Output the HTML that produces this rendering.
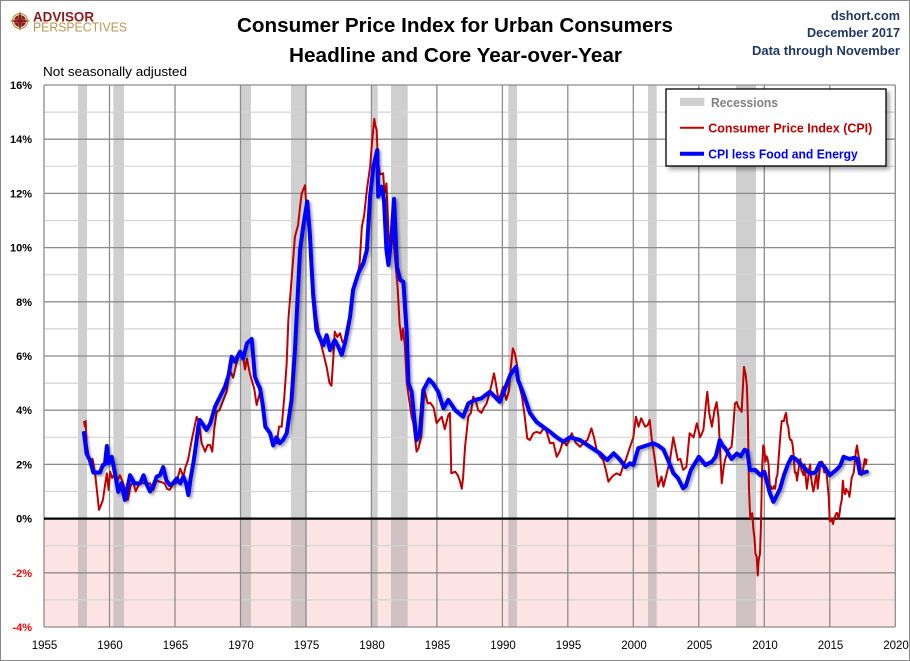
<!DOCTYPE html>
<html><head><meta charset="utf-8"><style>
html,body{margin:0;padding:0;background:#fff;}
svg{display:block;font-family:"Liberation Sans",Arial,sans-serif;}
</style></head><body>
<svg width="910" height="661" viewBox="0 0 910 661" xmlns="http://www.w3.org/2000/svg">
<defs>
<filter id="sh" x="-5%" y="-5%" width="110%" height="110%">
<feDropShadow dx="2" dy="2" stdDeviation="1.3" flood-color="#000" flood-opacity="0.35"/>
</filter>
<filter id="lsh" x="-10%" y="-10%" width="120%" height="130%">
<feDropShadow dx="3" dy="3" stdDeviation="2" flood-color="#000" flood-opacity="0.35"/>
</filter>
</defs>
<rect x="0.5" y="0.5" width="909" height="660" fill="#fff" stroke="#8a8a8a" stroke-width="1"/>

<!-- plot background -->
<rect x="44" y="85" width="851.3" height="542" fill="#fff"/>
<rect x="44" y="518.6" width="851.3" height="108.4" fill="#fde4e4"/>

<!-- recession bars -->
<g fill="#a0a0a0" fill-opacity="0.5">
<rect x="78" y="85" width="9" height="542"/>
<rect x="113.3" y="85" width="10.7" height="542"/>
<rect x="240.7" y="85" width="10.3" height="542"/>
<rect x="291" y="85" width="15" height="542"/>
<rect x="371.7" y="85" width="6" height="542"/>
<rect x="391" y="85" width="16.7" height="542"/>
<rect x="508.3" y="85" width="8.7" height="542"/>
<rect x="648" y="85" width="8.7" height="542"/>
<rect x="736" y="85" width="20" height="542"/>
</g>

<!-- minor gridlines -->
<g stroke="#d4d4d4" stroke-width="1.2">
<line x1="44" x2="895.3" y1="112.1" y2="112.1"/>
<line x1="44" x2="895.3" y1="166.3" y2="166.3"/>
<line x1="44" x2="895.3" y1="220.5" y2="220.5"/>
<line x1="44" x2="895.3" y1="274.7" y2="274.7"/>
<line x1="44" x2="895.3" y1="328.9" y2="328.9"/>
<line x1="44" x2="895.3" y1="383.1" y2="383.1"/>
<line x1="44" x2="895.3" y1="437.3" y2="437.3"/>
<line x1="44" x2="895.3" y1="491.5" y2="491.5"/>
<line x1="44" x2="895.3" y1="545.7" y2="545.7"/>
<line x1="44" x2="895.3" y1="599.9" y2="599.9"/>
</g>
<!-- major gridlines -->
<g stroke="#8c8c8c" stroke-width="1.3">
<line x1="44" x2="895.3" y1="85" y2="85"/>
<line x1="44" x2="895.3" y1="139.2" y2="139.2"/>
<line x1="44" x2="895.3" y1="193.4" y2="193.4"/>
<line x1="44" x2="895.3" y1="247.6" y2="247.6"/>
<line x1="44" x2="895.3" y1="301.8" y2="301.8"/>
<line x1="44" x2="895.3" y1="356" y2="356"/>
<line x1="44" x2="895.3" y1="410.2" y2="410.2"/>
<line x1="44" x2="895.3" y1="464.4" y2="464.4"/>
<line x1="44" x2="895.3" y1="572.8" y2="572.8"/>
<line x1="44" x2="895.3" y1="627" y2="627"/>
<line x1="44" x2="44" y1="85" y2="627"/>
<line x1="109.5" x2="109.5" y1="85" y2="627"/>
<line x1="175" x2="175" y1="85" y2="627"/>
<line x1="240.5" x2="240.5" y1="85" y2="627"/>
<line x1="306" x2="306" y1="85" y2="627"/>
<line x1="371.4" x2="371.4" y1="85" y2="627"/>
<line x1="436.9" x2="436.9" y1="85" y2="627"/>
<line x1="502.4" x2="502.4" y1="85" y2="627"/>
<line x1="567.8" x2="567.8" y1="85" y2="627"/>
<line x1="633.3" x2="633.3" y1="85" y2="627"/>
<line x1="698.8" x2="698.8" y1="85" y2="627"/>
<line x1="764.3" x2="764.3" y1="85" y2="627"/>
<line x1="829.8" x2="829.8" y1="85" y2="627"/>
<line x1="895.3" x2="895.3" y1="85" y2="627"/>
</g>
<line x1="44" x2="895.3" y1="518.6" y2="518.6" stroke="#000" stroke-width="2.2"/>

<!-- CPI series (red) -->
<g transform="translate(44,518.6) scale(13.096,-27.1) translate(-1955,0)">
<polyline fill="none" stroke="#c00000" stroke-width="2" vector-effect="non-scaling-stroke" stroke-linejoin="round" points="1958.05,3.6 1958.12,3.4 1958.18,3.6 1958.25,2.78 1958.5,2.04 1958.7,2.2 1958.9,1.67 1959.05,1.0 1959.2,0.32 1959.35,0.5 1959.5,0.69 1959.65,1.2 1959.8,1.67 1959.93,1.06 1960.05,1.73 1960.2,1.5 1960.42,1.67 1960.6,1.4 1960.8,1.6 1961.05,1.3 1961.2,1.0 1961.4,0.69 1961.6,1.2 1961.8,1.36 1962.0,1.0 1962.33,1.36 1962.6,1.3 1962.84,1.3 1963.1,1.3 1963.35,1.06 1963.6,1.4 1963.86,1.36 1964.2,1.3 1964.4,1.1 1964.6,1.06 1964.9,1.3 1965.1,1.3 1965.4,1.85 1965.64,1.55 1965.8,1.9 1966.0,2.16 1966.28,2.9 1966.5,3.4 1966.66,3.76 1966.85,3.5 1967.04,2.78 1967.3,2.47 1967.5,2.72 1967.67,2.72 1967.85,2.47 1968.0,3.3 1968.18,3.94 1968.4,4.0 1968.7,4.38 1968.95,4.7 1969.2,5.48 1969.45,5.2 1969.7,5.73 1969.95,6.1 1970.2,5.97 1970.35,5.5 1970.5,5.9 1970.7,5.4 1970.86,5.11 1971.05,4.8 1971.24,4.19 1971.5,4.68 1971.7,4.0 1971.9,3.45 1972.1,3.3 1972.26,3.15 1972.5,2.9 1972.77,2.78 1972.95,3.4 1973.15,3.39 1973.35,4.5 1973.53,5.73 1973.66,7.33 1973.9,8.8 1974.16,10.4 1974.4,10.83 1974.55,11.5 1974.68,12.0 1974.93,12.3 1975.05,11.39 1975.3,10.28 1975.56,8.56 1975.8,7.45 1976.07,6.59 1976.33,6.1 1976.58,5.6 1976.8,5.0 1976.95,4.9 1977.1,6.0 1977.2,6.9 1977.4,6.7 1977.6,6.84 1977.8,6.5 1977.98,6.6 1978.2,6.8 1978.37,7.33 1978.6,8.3 1978.9,8.9 1979.1,9.4 1979.27,10.76 1979.45,11.2 1979.65,12.12 1979.9,12.98 1980.05,13.9 1980.22,14.75 1980.3,14.5 1980.4,14.35 1980.5,13.2 1980.65,12.7 1980.9,12.74 1981.0,12.0 1981.15,12.37 1981.3,10.5 1981.4,9.9 1981.55,10.7 1981.66,10.5 1981.8,9.6 1982.0,8.55 1982.15,7.2 1982.3,6.59 1982.4,7.02 1982.55,6.4 1982.7,5.0 1982.85,4.5 1983.07,3.76 1983.2,3.52 1983.45,2.47 1983.6,2.6 1983.8,3.02 1984.05,4.74 1984.3,4.25 1984.5,4.27 1984.75,4.1 1984.98,3.52 1985.2,3.66 1985.37,3.76 1985.6,3.3 1985.87,3.82 1986.0,3.9 1986.1,1.67 1986.4,1.73 1986.6,1.6 1986.75,1.4 1986.9,1.1 1987.0,1.5 1987.15,2.65 1987.4,3.76 1987.6,3.9 1987.77,4.5 1987.95,4.4 1988.15,4.0 1988.4,3.9 1988.6,4.1 1988.8,4.25 1989.0,4.6 1989.2,5.0 1989.36,5.36 1989.5,5.0 1989.7,4.38 1989.9,4.6 1990.05,4.87 1990.3,4.38 1990.5,4.7 1990.65,5.6 1990.8,6.28 1990.95,6.1 1991.1,5.73 1991.3,4.9 1991.5,4.5 1991.7,3.8 1991.9,2.96 1992.1,2.9 1992.37,3.15 1992.6,3.2 1992.9,3.15 1993.1,3.3 1993.3,3.33 1993.64,2.78 1993.9,2.8 1994.15,2.28 1994.4,2.5 1994.65,2.9 1994.9,2.7 1995.1,2.9 1995.3,3.15 1995.6,2.8 1995.93,2.65 1996.2,2.8 1996.5,2.9 1996.8,3.33 1997.0,3.0 1997.2,2.53 1997.45,2.3 1997.7,2.16 1997.9,1.8 1998.1,1.36 1998.3,1.5 1998.5,1.6 1998.73,1.67 1999.0,1.6 1999.2,1.9 1999.45,2.2 1999.75,2.65 2000.0,3.0 2000.2,3.76 2000.4,3.39 2000.6,3.7 2000.9,3.39 2001.1,3.45 2001.25,3.64 2001.4,2.96 2001.65,2.16 2001.9,1.18 2002.15,1.55 2002.3,1.18 2002.55,1.67 2002.8,2.16 2003.05,3.0 2003.2,2.65 2003.4,2.16 2003.6,2.2 2003.8,1.8 2004.05,1.9 2004.3,3.15 2004.6,3.0 2004.85,3.52 2005.1,3.0 2005.35,3.27 2005.55,4.25 2005.65,4.68 2005.8,3.88 2006.0,3.39 2006.2,4.0 2006.36,4.3 2006.5,3.76 2006.6,2.78 2006.75,1.3 2006.9,1.9 2007.0,2.16 2007.25,2.53 2007.5,2.65 2007.6,3.15 2007.76,4.25 2007.9,4.3 2008.0,4.13 2008.27,3.94 2008.45,5.6 2008.58,5.3 2008.67,4.9 2008.75,3.7 2008.83,1.1 2008.92,0.1 2009.0,0.0 2009.08,0.2 2009.17,-0.4 2009.25,-0.7 2009.33,-1.3 2009.42,-1.4 2009.5,-2.1 2009.58,-1.5 2009.67,-1.3 2009.75,-0.2 2009.83,1.8 2009.92,2.7 2010.0,2.6 2010.08,2.1 2010.17,2.3 2010.25,2.2 2010.33,2.0 2010.42,1.1 2010.5,1.2 2010.58,1.1 2010.67,1.1 2010.75,1.2 2010.83,1.1 2010.92,1.5 2011.0,1.6 2011.08,2.1 2011.17,2.7 2011.25,3.2 2011.33,3.6 2011.42,3.6 2011.5,3.6 2011.58,3.8 2011.67,3.9 2011.75,3.5 2011.83,3.4 2011.92,3.0 2012.0,2.9 2012.08,2.9 2012.17,2.7 2012.25,2.3 2012.33,1.7 2012.42,1.7 2012.5,1.4 2012.58,1.7 2012.67,2.0 2012.75,2.2 2012.83,1.8 2012.92,1.7 2013.0,1.6 2013.08,2.0 2013.17,1.5 2013.25,1.1 2013.33,1.4 2013.42,1.8 2013.5,2.0 2013.58,1.5 2013.67,1.2 2013.75,1.0 2013.83,1.2 2013.92,1.5 2014.0,1.6 2014.08,1.1 2014.17,1.5 2014.25,2.0 2014.33,2.1 2014.42,2.1 2014.5,2.0 2014.58,1.7 2014.67,1.7 2014.75,1.7 2014.83,1.3 2014.92,0.8 2015.0,-0.1 2015.08,0.0 2015.17,-0.1 2015.25,-0.2 2015.33,0.0 2015.42,0.1 2015.5,0.2 2015.58,0.2 2015.67,0.0 2015.75,0.2 2015.83,0.5 2015.92,0.7 2016.0,1.4 2016.08,1.0 2016.17,0.9 2016.25,1.1 2016.33,1.0 2016.42,1.0 2016.5,0.8 2016.58,1.1 2016.67,1.5 2016.75,1.6 2016.83,1.7 2016.92,2.1 2017.0,2.5 2017.08,2.7 2017.17,2.4 2017.25,2.2 2017.33,1.9 2017.42,1.6 2017.5,1.7 2017.58,1.9 2017.67,2.2 2017.75,2.0 2017.83,2.2"/>
</g>

<!-- Core series (blue) -->
<g filter="url(#sh)">
<g transform="translate(44,518.6) scale(13.096,-27.1) translate(-1955,0)">
<polyline fill="none" stroke="#0000ff" stroke-width="4" vector-effect="non-scaling-stroke" stroke-linejoin="round" stroke-linecap="round" points="1958.05,3.16 1958.15,2.8 1958.25,2.4 1958.5,2.16 1958.77,1.7 1959.27,1.7 1959.5,1.98 1959.65,2.0 1959.8,2.68 1959.93,2.04 1960.17,2.28 1960.42,1.67 1960.67,0.99 1960.9,1.3 1961.18,0.69 1961.4,1.2 1961.57,1.6 1961.9,1.3 1962.33,1.3 1962.6,1.6 1962.8,1.3 1963.1,1.0 1963.35,1.2 1963.6,1.55 1963.85,1.6 1964.1,1.9 1964.35,1.4 1964.6,1.24 1964.85,1.3 1965.13,1.48 1965.4,1.3 1965.64,1.55 1965.85,1.3 1966.02,0.87 1966.2,1.5 1966.4,2.04 1966.6,2.7 1966.78,3.39 1966.9,3.64 1967.1,3.5 1967.4,3.27 1967.7,3.52 1968.06,4.13 1968.44,4.5 1968.82,4.87 1969.1,5.3 1969.33,5.97 1969.58,5.79 1969.97,6.16 1970.2,5.91 1970.5,6.47 1970.86,6.63 1971.1,5.24 1971.3,5.0 1971.5,4.8 1971.7,4.2 1971.9,3.39 1972.26,3.15 1972.5,2.7 1972.75,3.0 1973.0,2.78 1973.25,2.9 1973.53,3.15 1973.9,4.38 1974.16,6.2 1974.35,8.0 1974.55,9.9 1974.8,10.8 1975.1,11.7 1975.3,10.5 1975.43,9.3 1975.56,8.2 1975.8,6.96 1976.07,6.65 1976.33,6.4 1976.58,6.77 1976.84,6.22 1977.2,6.59 1977.47,6.34 1977.73,6.04 1977.98,6.47 1978.37,7.45 1978.6,8.44 1979.0,9.05 1979.38,9.42 1979.65,9.9 1979.9,11.88 1980.15,12.98 1980.45,13.6 1980.52,11.88 1980.78,12.25 1980.96,11.76 1981.15,9.9 1981.3,9.36 1981.55,10.5 1981.73,11.8 1981.95,9.3 1982.2,8.8 1982.44,8.74 1982.7,6.84 1982.83,5.0 1983.07,4.68 1983.25,3.8 1983.45,2.9 1983.7,3.15 1983.96,4.74 1984.4,5.14 1984.7,4.99 1985.1,4.68 1985.5,4.07 1985.87,4.38 1986.4,4.0 1987.0,3.76 1987.4,4.25 1987.9,4.38 1988.4,4.44 1989.05,4.68 1989.3,4.56 1989.8,4.31 1990.2,4.8 1990.6,5.3 1991.05,5.6 1991.2,5.11 1991.6,4.62 1992.1,3.9 1992.6,3.57 1993.1,3.39 1993.64,3.2 1994.15,3.0 1994.65,2.84 1995.16,3.0 1995.93,2.9 1996.7,2.65 1997.45,2.41 1998.0,2.16 1998.5,2.41 1999.0,2.16 1999.4,1.9 1999.75,2.04 2000.0,1.98 2000.38,2.6 2001.15,2.72 2001.5,2.78 2001.9,2.7 2002.3,2.55 2002.7,2.1 2003.05,1.68 2003.4,1.5 2003.8,1.12 2004.0,1.2 2004.4,1.8 2005.0,2.28 2005.5,1.98 2006.0,2.1 2006.3,2.3 2006.6,2.9 2006.8,2.7 2007.0,2.6 2007.5,2.2 2007.9,2.4 2008.2,2.3 2008.5,2.54 2008.7,2.5 2008.9,1.8 2009.3,1.8 2009.7,1.6 2010.0,1.73 2010.43,0.93 2010.7,0.62 2010.9,0.8 2011.2,1.1 2011.5,1.6 2011.8,2.0 2012.1,2.28 2012.4,2.2 2012.8,2.0 2013.2,1.8 2013.5,1.67 2013.9,1.7 2014.25,2.05 2014.6,1.9 2015.0,1.6 2015.5,1.8 2015.8,1.95 2016.05,2.28 2016.5,2.2 2016.9,2.25 2017.1,2.2 2017.3,1.67 2017.6,1.7 2017.83,1.73"/>
</g>
</g>

<!-- Y axis labels -->
<g font-size="11" font-weight="bold" text-anchor="end">
<text x="32" y="89">16%</text>
<text x="32" y="143.2">14%</text>
<text x="32" y="197.4">12%</text>
<text x="32" y="251.6">10%</text>
<text x="32" y="305.8">8%</text>
<text x="32" y="360">6%</text>
<text x="32" y="414.2">4%</text>
<text x="32" y="468.4">2%</text>
<text x="32" y="522.6">0%</text>
<text x="32" y="576.8" fill="#ff0000">-2%</text>
<text x="32" y="631" fill="#ff0000">-4%</text>
</g>

<!-- X axis labels -->
<g font-size="11.5" text-anchor="middle">
<text x="44.5" y="649">1955</text>
<text x="110" y="649">1960</text>
<text x="175.5" y="649">1965</text>
<text x="241" y="649">1970</text>
<text x="306.5" y="649">1975</text>
<text x="372" y="649">1980</text>
<text x="437.5" y="649">1985</text>
<text x="503" y="649">1990</text>
<text x="568.5" y="649">1995</text>
<text x="634" y="649">2000</text>
<text x="699.5" y="649">2005</text>
<text x="765" y="649">2010</text>
<text x="830.5" y="649">2015</text>
<text x="896" y="649">2020</text>
</g>

<!-- Titles -->
<text x="455" y="32" font-size="20" font-weight="bold" text-anchor="middle" textLength="436" lengthAdjust="spacingAndGlyphs">Consumer Price Index for Urban Consumers</text>
<text x="455.5" y="62" font-size="20" font-weight="bold" text-anchor="middle" textLength="333" lengthAdjust="spacingAndGlyphs">Headline and Core Year-over-Year</text>
<text x="43" y="76" font-size="13" textLength="144" lengthAdjust="spacingAndGlyphs">Not seasonally adjusted</text>

<g fill="#1f3864" font-size="13" font-weight="bold" text-anchor="end">
<text x="900" y="20" textLength="69" lengthAdjust="spacingAndGlyphs">dshort.com</text>
<text x="900" y="37" textLength="93" lengthAdjust="spacingAndGlyphs">December 2017</text>
<text x="900" y="55" textLength="148" lengthAdjust="spacingAndGlyphs">Data through November</text>
</g>

<!-- Logo -->
<g>
<circle cx="20" cy="21" r="7.5" fill="none" stroke="#c9a86a" stroke-width="1.6"/>
<circle cx="20" cy="21" r="6" fill="#7a1a1a"/>
<polygon points="20,11 22,19 30,21 22,23 20,31 18,23 10,21 18,19" fill="#8b1c1c" stroke="#c9a86a" stroke-width="0.5"/>
<text x="33" y="21.5" font-size="14" font-weight="bold" fill="#8b1c1c" textLength="61" lengthAdjust="spacingAndGlyphs">ADVISOR</text>
<text x="33" y="31.5" font-size="12.5" fill="#b8964f" textLength="94" lengthAdjust="spacingAndGlyphs">PERSPECTIVES</text>
</g>

<!-- Legend -->
<rect x="666" y="89" width="220" height="77" fill="#fff" stroke="#000" stroke-width="1.3" filter="url(#lsh)"/>
<rect x="680" y="97.7" width="24.3" height="8.3" fill="#d0d0d0"/>
<text x="711" y="107" font-size="13" font-weight="bold" fill="#808080" textLength="67" lengthAdjust="spacingAndGlyphs">Recessions</text>
<line x1="680" x2="704" y1="127.7" y2="127.7" stroke="#c00000" stroke-width="2"/>
<text x="708.3" y="132.5" font-size="13" font-weight="bold" fill="#c00000" textLength="164" lengthAdjust="spacingAndGlyphs">Consumer Price Index (CPI)</text>
<line x1="680" x2="704" y1="153.7" y2="153.7" stroke="#0000ff" stroke-width="4"/>
<text x="708.3" y="158.5" font-size="13" font-weight="bold" fill="#0000ff" textLength="149.5" lengthAdjust="spacingAndGlyphs">CPI less Food and Energy</text>
</svg>
</body></html>
